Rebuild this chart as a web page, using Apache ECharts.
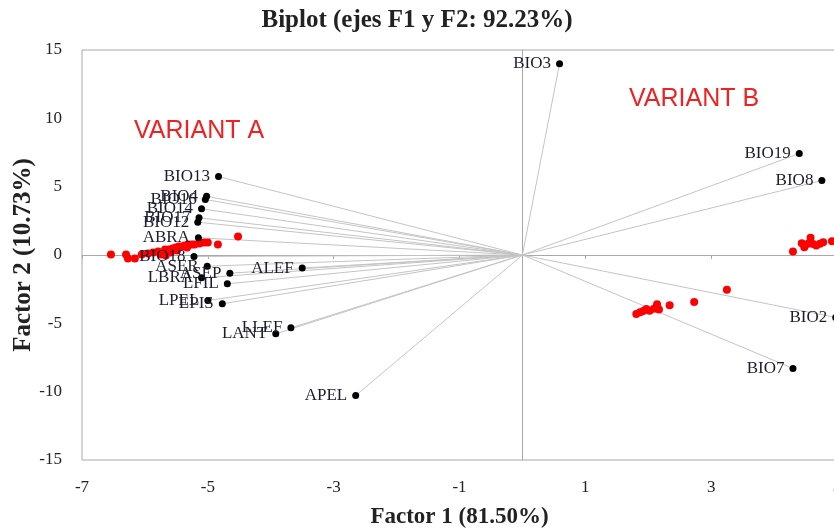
<!DOCTYPE html>
<html>
<head>
<meta charset="utf-8">
<script src="https://cdn.jsdelivr.net/npm/echarts@6/dist/echarts.min.js"></script>
<style>html,body{margin:0;padding:0;background:#fff}#c{width:834px;height:530px}</style>
</head>
<body>
<div id="c"></div>
<script>
// Variables (active variables, factor loadings scaled)
const varNames = ['BIO3','BIO19','BIO8','BIO2','BIO7','BIO13','BIO4','BIO16','BIO14','BIO17','BIO12','ABRA','BIO18','ASER','ASEP','LBRA','LFIL','ALEF','LPEL','EPIS','LLEF','LANT','APEL'];
const varF1 = [0.59, 4.40, 4.76, 4.98, 4.30, -4.83, -5.02, -5.04, -5.10, -5.14, -5.16, -5.15, -5.22, -5.01, -4.65, -5.10, -4.69, -3.50, -5.00, -4.77, -3.68, -3.92, -2.65];
const varF2 = [14.0, 7.42, 5.45, -4.57, -8.30, 5.74, 4.29, 4.06, 3.38, 2.72, 2.40, 1.26, -0.11, -0.82, -1.33, -1.67, -2.11, -0.96, -3.33, -3.57, -5.33, -5.77, -10.28];
// Observations
const obsF1 = [-6.54, -6.30, -6.27, -6.16, -6.05, -5.95, -5.87, -5.79, -5.75, -5.68, -5.62, -5.56, -5.51, -5.46, -5.41, -5.37, -5.30, -5.25, -5.21, -5.13, -5.06, -5.00, -4.84, -4.52, -5.59, -5.49, -5.33, -5.67,
  4.30, 4.44, 4.48, 4.54, 4.58, 4.62, 4.67, 4.73, 4.78, 4.92,
  1.81, 1.87, 1.92, 1.97, 2.02, 2.09, 2.14, 2.17, 2.34, 2.73, 3.25];
const obsF2 = [0.04, 0.04, -0.26, -0.26, 0.04, 0.11, 0.18, 0.26, 0.04, 0.40, 0.40, 0.48, 0.55, 0.62, 0.62, 0.70, 0.77, 0.77, 0.77, 0.84, 0.91, 0.91, 0.77, 1.35, 0.18, 0.33, 0.55, -0.04,
  0.26, 0.86, 0.57, 0.82, 1.26, 0.80, 0.69, 0.82, 0.94, 1.01,
  -4.32, -4.18, -4.10, -3.95, -4.08, -3.94, -3.60, -3.99, -3.67, -3.43, -2.54];
const xTicks = [-7, -5, -3, -1, 1, 3, 5];
const yTicks = [-15, -10, -5, 0, 5, 10, 15];

const serif = 'Liberation Serif';
const chart = echarts.init(document.getElementById('c'));
const varPts = varNames.map((n, i) => ({ name: n, value: [varF1[i], varF2[i]] }));
const vecLines = varNames.map((n, i) => ({ coords: [[0, 0], [varF1[i], varF2[i]]] }));
const obsPts = obsF1.map((x, i) => [x, obsF2[i]]);

chart.setOption({
  animation: false,
  title: {
    text: 'Biplot (ejes F1 y F2: 92.23%)',
    left: 'center', top: 3,
    textStyle: { fontFamily: serif, fontWeight: 'bold', fontSize: 25, color: '#222' }
  },
  grid: { left: 82, top: 50, width: 755, height: 410, show: true, borderColor: '#a8a8a8', borderWidth: 1, outerBoundsMode: 'none', containLabel: false },
  xAxis: [{
    type: 'value', min: xTicks[0], max: xTicks[xTicks.length - 1], interval: 2,
    axisLine: { show: false, onZero: false }, axisTick: { show: false }, splitLine: { show: false },
    axisLabel: { fontFamily: serif, fontSize: 17, color: '#222', margin: 19 },
    name: 'Factor 1 (81.50%)', nameLocation: 'middle', nameGap: 46, nameMoveOverlap: false,
    nameTextStyle: { fontFamily: serif, fontWeight: 'bold', fontSize: 23, color: '#222' }
  }, {
    type: 'value', min: xTicks[0], max: xTicks[xTicks.length - 1], interval: 2,
    axisLine: { show: true, onZero: true, lineStyle: { color: '#a8a8a8', width: 1 } },
    axisTick: { show: true, inside: true, length: 4, lineStyle: { color: '#a8a8a8' } },
    axisLabel: { show: false }, splitLine: { show: false }
  }],
  yAxis: [{
    type: 'value', min: yTicks[0], max: yTicks[yTicks.length - 1], interval: 5,
    axisLine: { show: false, onZero: false }, axisTick: { show: false }, splitLine: { show: false },
    axisLabel: { fontFamily: serif, fontSize: 17, color: '#222', margin: 20 },
    name: 'Factor 2 (10.73%)', nameLocation: 'middle', nameGap: 46, nameMoveOverlap: false,
    nameTextStyle: { fontFamily: serif, fontWeight: 'bold', fontSize: 25, color: '#222' }
  }, {
    type: 'value', min: yTicks[0], max: yTicks[yTicks.length - 1], interval: 5,
    axisLine: { show: true, onZero: true, lineStyle: { color: '#a8a8a8', width: 1 } },
    axisTick: { show: false }, axisLabel: { show: false }, splitLine: { show: false }
  }],
  series: [{
    type: 'lines', coordinateSystem: 'cartesian2d', xAxisIndex: 0, yAxisIndex: 0,
    data: vecLines, silent: true,
    lineStyle: { color: '#c4c4c4', width: 1, opacity: 1 }
  }, {
    type: 'scatter', xAxisIndex: 0, yAxisIndex: 0,
    data: obsPts, symbolSize: 8,
    itemStyle: { color: '#ff0000', opacity: 1 }
  }, {
    type: 'scatter', xAxisIndex: 0, yAxisIndex: 0,
    data: varPts, symbolSize: 7,
    itemStyle: { color: '#000', opacity: 1 },
    label: {
      show: true, position: 'left', distance: 5,
      formatter: p => p.name,
      fontFamily: serif, fontSize: 17, color: '#1c1c30'
    }
  }],
  graphic: [
    { type: 'text', left: 134, top: 119, style: { text: 'VARIANT A', fontFamily: 'Liberation Sans', fontSize: 25, fill: '#ee2222' } },
    { type: 'text', left: 629, top: 87, style: { text: 'VARIANT B', fontFamily: 'Liberation Sans', fontSize: 25, fill: '#ee2222' } }
  ]
});
</script>
</body>
</html>
